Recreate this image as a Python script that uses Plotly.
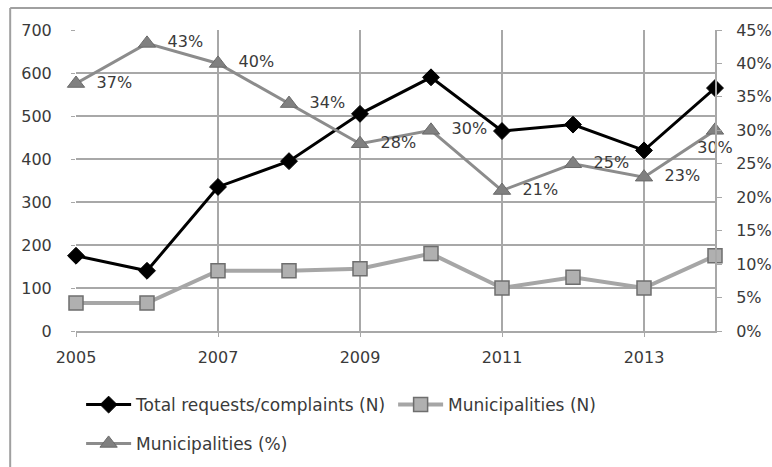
import plotly.graph_objects as go

# Yearly series
years = [2005, 2006, 2007, 2008, 2009, 2010, 2011, 2012, 2013, 2014]
total_requests = [175, 140, 335, 395, 505, 590, 465, 480, 420, 565]
municipalities_n = [65, 65, 140, 140, 145, 180, 100, 125, 100, 175]
municipalities_pct = [37, 43, 40, 34, 28, 30, 21, 25, 23, 30]

# Axis ticks
x_tick_years = [2005, 2007, 2009, 2011, 2013]
left_ticks = [0, 100, 200, 300, 400, 500, 600, 700]
right_ticks = [0, 5, 10, 15, 20, 25, 30, 35, 40, 45]
right_tick_text = ["%d%%" % v for v in right_ticks]

FONT = "DejaVu Sans"
TXT = "#3a3a3a"
GRID = "#a8a8a8"

pct_labels = ["\u00a0\u00a0%d%%" % v for v in municipalities_pct]
pct_pos = ["middle right"] * (len(years) - 1) + ["bottom center"]
pct_labels[-1] = "%d%%" % municipalities_pct[-1]

fig = go.Figure()

fig.add_trace(go.Scatter(
    x=years, y=total_requests, name="Total requests/complaints (N)",
    mode="lines+markers", cliponaxis=False,
    line=dict(color="#000000", width=3),
    marker=dict(symbol="diamond", size=13, color="#000000",
                line=dict(color="#000000", width=1)),
    legend="legend",
))

fig.add_trace(go.Scatter(
    x=years, y=municipalities_n, name="Municipalities (N)",
    mode="lines+markers", cliponaxis=False,
    line=dict(color="#a6a6a6", width=4),
    marker=dict(symbol="square", size=14, color="#b0b0b0",
                line=dict(color="#6e6e6e", width=1.5)),
    legend="legend",
))

fig.add_trace(go.Scatter(
    x=years, y=municipalities_pct, name="Municipalities (%)",
    mode="lines+markers+text", cliponaxis=False, yaxis="y2",
    text=pct_labels, textposition=pct_pos,
    textfont=dict(family=FONT, size=16, color=TXT),
    line=dict(color="#8c8c8c", width=3),
    marker=dict(symbol="triangle-up", size=15, color="#808080",
                line=dict(color="#6a6a6a", width=1)),
    legend="legend2",
))

# Outer chart frame (left and top edges)
fig.add_shape(type="line", xref="paper", yref="paper",
              x0=-0.103, x1=-0.103, y0=1.073, y1=-0.46,
              line=dict(color="#a0a0a0", width=2))
fig.add_shape(type="line", xref="paper", yref="paper",
              x0=-0.103, x1=1.1, y0=1.073, y1=1.073,
              line=dict(color="#a0a0a0", width=2))

fig.update_layout(
    width=772, height=467,
    margin=dict(l=76, r=57, t=30, b=136, autoexpand=False),
    paper_bgcolor="white", plot_bgcolor="white",
    font=dict(family=FONT, size=16, color=TXT),
    xaxis=dict(
        range=[2005, 2014], tickvals=x_tick_years,
        showgrid=True, gridcolor=GRID, gridwidth=2,
        showline=True, linecolor=GRID, linewidth=2,
        ticks="outside", ticklen=4, tickcolor=GRID,
        ticklabelstandoff=7, zeroline=False, automargin=False,
        tickfont=dict(family=FONT, size=16, color=TXT),
    ),
    yaxis=dict(
        range=[0, 700], tickvals=left_ticks,
        showgrid=True, gridcolor=GRID, gridwidth=2,
        showline=False, zeroline=False, automargin=False,
        ticks="outside", ticklen=4, tickcolor=GRID,
        ticklabelstandoff=16,
        tickfont=dict(family=FONT, size=16, color=TXT),
    ),
    yaxis2=dict(
        overlaying="y", side="right",
        range=[0, 45], tickvals=right_ticks, ticktext=right_tick_text,
        showgrid=False, zeroline=False, automargin=False,
        showline=True, linecolor=GRID, linewidth=2,
        ticks="outside", ticklen=5, tickcolor=GRID,
        ticklabelstandoff=11,
        tickfont=dict(family=FONT, size=16, color=TXT),
    ),
    legend=dict(
        orientation="h", x=0.008, xanchor="left", y=-0.246, yanchor="middle",
        entrywidth=252, itemwidth=45, bgcolor="rgba(0,0,0,0)",
        font=dict(family=FONT, size=17, color=TXT),
    ),
    legend2=dict(
        orientation="h", x=0.008, xanchor="left", y=-0.375, yanchor="middle",
        itemwidth=45, bgcolor="rgba(0,0,0,0)",
        font=dict(family=FONT, size=17, color=TXT),
    ),
    showlegend=True,
)

fig.write_html("out.html")
